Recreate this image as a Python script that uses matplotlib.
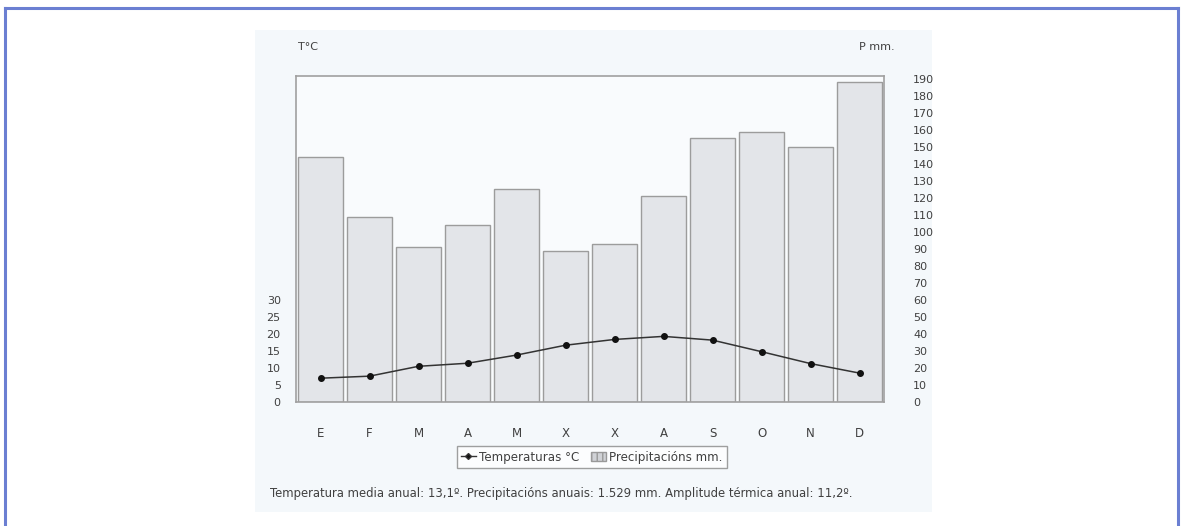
import matplotlib
matplotlib.use('Agg')
import matplotlib.pyplot as plt
from matplotlib.lines import Line2D
from matplotlib.patches import Patch, Rectangle
import numpy as np

# ===== DATA =====
months = ['E', 'F', 'M', 'A', 'M', 'X', 'X', 'A', 'S', 'O', 'N', 'D']
precip = [144, 109, 91, 104, 125, 89, 93, 121, 155, 159, 150, 188]
temp = [7.0, 7.6, 10.5, 11.4, 13.8, 16.7, 18.4, 19.3, 18.2, 14.8, 11.3, 8.5]
temp_ticks = [0, 5, 10, 15, 20, 25, 30]
precip_ticks = list(range(0, 200, 10))
caption = ("Temperatura media anual: 13,1º. Precipitacións anuais: 1.529 mm. "
           "Amplitude térmica anual: 11,2º.")

W, H = 1183, 526
fig = plt.figure(figsize=(W / 100, H / 100), dpi=100)
fig.patch.set_facecolor('white')

# blue outer frame + pale picture background
fig.add_artist(Line2D([5 / W, 5 / W], [0, 1 - 8 / H], color='#6b7fd2', lw=2.2))
fig.add_artist(Line2D([1178 / W, 1178 / W], [0, 1 - 8 / H], color='#6b7fd2', lw=2.2))
fig.add_artist(Line2D([5 / W, 1178 / W], [1 - 8 / H, 1 - 8 / H], color='#6b7fd2', lw=2.2))
fig.add_artist(Rectangle((255 / W, 1 - 512 / H), 677 / W, 482 / H, transform=fig.transFigure,
                         facecolor='#f4f8fb', edgecolor='none', zorder=0))

txt = '#404040'
ax = fig.add_axes([296 / W, 1 - 402 / H, 588 / W, 325.5 / H])
ax.set_facecolor('#f9fbfd')
x = np.arange(len(months))
ax.bar(x, precip, 0.9, color='#e3e5e9', edgecolor='#9c9c9c', linewidth=1.0, zorder=2)
ymax = 325.5 / 1.7
ax.set_ylim(0, ymax)
ax.set_xlim(-0.5, 11.5)
ax.set_xticks(x)
ax.set_xticklabels(months)
ax.tick_params(axis='x', length=0, pad=18, labelsize=8.5, labelcolor=txt)
for s in ax.spines.values():
    s.set_color('#a0a0a0')
    s.set_linewidth(1.2)

ax2 = ax.twinx()
ax2.plot(x, temp, '-', color='#333333', lw=1.1, marker='o', markersize=4,
         markerfacecolor='#111111', markeredgecolor='#111111', zorder=5)
ax2.set_ylim(0, ymax / 2)
ax2.yaxis.tick_left()
ax2.yaxis.set_label_position('left')
ax2.set_yticks(temp_ticks)
ax2.tick_params(axis='y', length=0, pad=11, labelsize=8, labelcolor=txt)
for s in ax2.spines.values():
    s.set_visible(False)

# precipitation scale on the right (after twinx, which resets it)
ax.yaxis.tick_right()
ax.set_yticks(precip_ticks)
ax.tick_params(axis='y', length=0, pad=21, labelsize=8, labelcolor=txt)

fig.text(298 / W, 1 - 47 / H, 'T°C', fontsize=8, color=txt, va='center', ha='left')
fig.text(895 / W, 1 - 47 / H, 'P mm.', fontsize=8, color=txt, va='center', ha='right')

handles = [Line2D([0], [0], color='#333333', lw=1, marker='D', markersize=3,
                  markerfacecolor='#111111'),
           Patch(facecolor='#d0d2d6', edgecolor='#999999', hatch='|||')]
leg = fig.legend(handles, ['Temperaturas °C', 'Precipitacións mm.'], ncol=2,
                 loc='center', bbox_to_anchor=(592 / W, 1 - 457 / H), fontsize=8.6,
                 frameon=True, fancybox=False, handlelength=1.2, handletextpad=0.3,
                 columnspacing=1.0, borderpad=0.4, labelcolor=txt)
leg.get_frame().set_edgecolor('#888888')
leg.get_frame().set_linewidth(1.0)
leg.get_frame().set_facecolor('white')

fig.text(270 / W, 1 - 493 / H, caption, fontsize=8.4, color=txt, va='center', ha='left')

plt.savefig('out.png', dpi=100)
plt.close()
